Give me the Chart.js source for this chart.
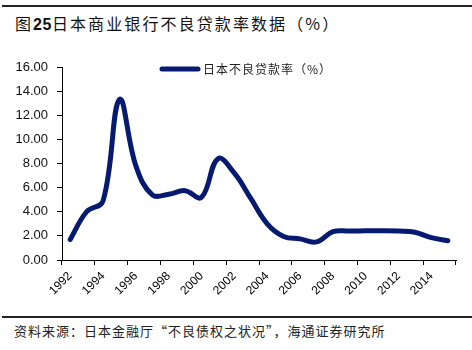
<!DOCTYPE html>
<html lang="zh-CN">
<head>
<meta charset="UTF-8">
<title>日本商业银行不良贷款率数据</title>
<script src="https://cdn.jsdelivr.net/npm/chart.js"></script>
<style>
    body { margin: 0; width: 472px; height: 350px; background: #fff; position: relative; overflow: hidden;
           font-family: "Noto Sans CJK SC", sans-serif; }
    .rule { position: absolute; left: 2px; right: 0; height: 1.5px; background: #222; }
    .title { position: absolute; left: 15px; top: 12px; font-size: 16px; line-height: 22px;
             letter-spacing: 2.1px; color: #111; white-space: nowrap; }
    .title b { font-family: "Liberation Sans", Arial, sans-serif; letter-spacing: 0.5px; }
    .chart-box { position: absolute; left: 0; top: 40px; width: 472px; height: 262px; }
    .source { position: absolute; left: 14px; top: 322px; font-size: 13px; line-height: 18px;
              letter-spacing: 1px; color: #222; white-space: nowrap; }
</style>
</head>
<body>

<div class="rule" style="top:5px"></div>
<div class="title">图<b>25</b>日本商业银行不良贷款率数据（%）</div>

<div class="chart-box">
    <canvas id="nplChart"></canvas>
</div>

<div class="rule" style="top:316px"></div>
<div class="source">资料来源：日本金融厅“不良债权之状况”，海通证券研究所</div>

<script>
    // data
    const years = ["1992", "1993", "1994", "1995", "1996", "1997", "1998", "1999", "2000", "2001", "2002", "2003",
                   "2004", "2005", "2006", "2007", "2008", "2009", "2010", "2011", "2012", "2013", "2014", "2015"];
    const nplRatio = [1.7, 4.0, 4.9, 13.3, 7.8, 5.4, 5.45, 5.75, 5.2, 8.4, 7.2, 5.1,
                      3.0, 1.95, 1.75, 1.5, 2.35, 2.4, 2.43, 2.43, 2.4, 2.3, 1.85, 1.6];
    const seriesName = "日本不良贷款率（%）";
    const lineColor = "#061a72";

    // legend drawn inside the plot, like the original
    const insideLegend = {
        id: "insideLegend",
        afterDraw(chart) {
            let ctx = chart.ctx;
            let area = chart.chartArea;
            let ds = chart.data.datasets[0];
            let y = area.top + 2;
            let x0 = area.left + 100;
            ctx.save();
            ctx.strokeStyle = ds.borderColor;
            ctx.lineWidth = 5;
            ctx.lineCap = "round";
            ctx.beginPath();
            ctx.moveTo(x0, y);
            ctx.lineTo(x0 + 36, y);
            ctx.stroke();
            ctx.fillStyle = "#222";
            ctx.font = '12px "Noto Sans CJK SC"';
            ctx.letterSpacing = "1px";
            ctx.textBaseline = "middle";
            ctx.fillText(ds.label, x0 + 41, y);
            ctx.restore();
        }
    };

    const tickFont = { family: '"Liberation Sans", Arial, sans-serif', size: 13 };

    new Chart(document.getElementById("nplChart"), {
        type: "line",
        data: {
            labels: years,
            datasets: [{
                label: seriesName,
                data: nplRatio,
                borderColor: lineColor,
                backgroundColor: lineColor,
                borderWidth: 5,
                borderCapStyle: "round",
                pointRadius: 0,
                tension: 0.4,
                fill: false
            }]
        },
        options: {
            responsive: true,
            maintainAspectRatio: false,
            animation: false,
            layout: { padding: { top: 27, right: 16, left: 0, bottom: 0 } },
            plugins: {
                legend: { display: false },
                tooltip: { enabled: false }
            },
            scales: {
                x: {
                    offset: true,
                    afterFit(scale) { scale.height = 42; },
                    border: { display: true, color: "#000", width: 1 },
                    grid: {
                        offset: true,
                        drawOnChartArea: false,
                        drawTicks: true,
                        tickLength: 5,
                        tickColor: c => (c.index === undefined || c.index % 2 === 0) ? "#000" : "rgba(0,0,0,0)"
                    },
                    ticks: {
                        autoSkip: false,
                        maxRotation: 45,
                        minRotation: 45,
                        padding: 4,
                        color: "#000",
                        font: { family: tickFont.family, size: 12 },
                        callback: (v, i) => i % 2 === 0 ? years[i] : ""
                    }
                },
                y: {
                    min: 0,
                    max: 16,
                    afterFit(scale) { scale.width = 62; },
                    border: { display: true, color: "#000", width: 1 },
                    grid: {
                        drawOnChartArea: false,
                        drawTicks: true,
                        tickLength: 5,
                        tickColor: "#000"
                    },
                    ticks: {
                        stepSize: 2,
                        padding: 9,
                        color: "#111",
                        font: tickFont,
                        callback: v => v.toFixed(2)
                    }
                }
            }
        },
        plugins: [insideLegend]
    });
</script>

</body>
</html>
